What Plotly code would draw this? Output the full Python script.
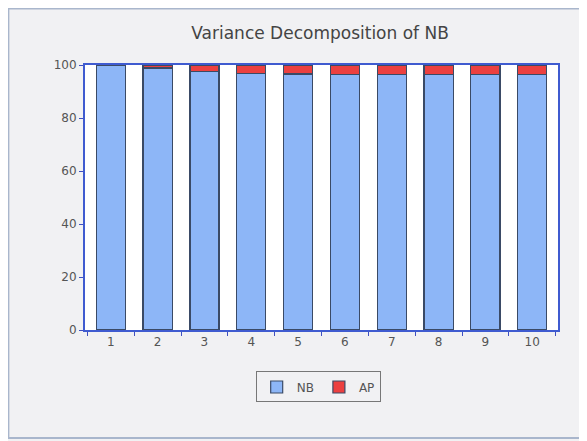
import plotly.graph_objects as go

periods = ["1", "2", "3", "4", "5", "6", "7", "8", "9", "10"]
nb_share = [100.0, 98.9, 97.4, 96.9, 96.6, 96.5, 96.5, 96.4, 96.4, 96.4]
ap_share = [0.0, 1.1, 2.6, 3.1, 3.4, 3.5, 3.5, 3.6, 3.6, 3.6]
y_ticks = [0, 20, 40, 60, 80, 100]

fig = go.Figure()
fig.add_bar(x=periods, y=nb_share, name="NB",
            marker=dict(color="#8db6f7", line=dict(color="#3a4a66", width=1.2)))
fig.add_bar(x=periods, y=ap_share, name="AP",
            marker=dict(color="#ec4040", line=dict(color="#3a4a66", width=1.2)))

fig.update_layout(
    width=579, height=433,
    barmode="stack", bargap=0.38,
    paper_bgcolor="#f1f1f3", plot_bgcolor="#ffffff",
    margin=dict(l=77, r=29, t=57, b=111, autoexpand=False),
    font=dict(family="DejaVu Sans, Verdana, sans-serif", size=12, color="#555555"),
    title=dict(text="Variance Decomposition of NB", x=0.539, xanchor="center",
               y=0.942, yanchor="middle",
               font=dict(size=17, color="#444444")),
    showlegend=True,
    legend=dict(orientation="h", traceorder="normal", x=0.493, xanchor="center",
                y=-0.215, yanchor="middle",
                bgcolor="#f1f1f3", bordercolor="#777777", borderwidth=1,
                font=dict(size=12, color="#555555")),
    shapes=[dict(type="rect", xref="paper", yref="paper", x0=-0.162, x1=1.051,
                 y0=-0.4075, y1=1.213, line=dict(color="#a9b6cc", width=2))],
)
fig.update_xaxes(type="category", tickson="boundaries", ticks="outside", ticklen=4,
                 tickcolor="#4050c0", showline=True, linecolor="#3f5bd0", linewidth=2,
                 mirror=True, showgrid=False, range=[-0.55, 9.55])
fig.update_yaxes(range=[0, 100], tickvals=y_ticks, ticks="outside", ticklen=4,
                 tickcolor="#4050c0", showline=True, linecolor="#3f5bd0", linewidth=2,
                 mirror=True, showgrid=False, zeroline=False)

fig.write_html("out.html")
